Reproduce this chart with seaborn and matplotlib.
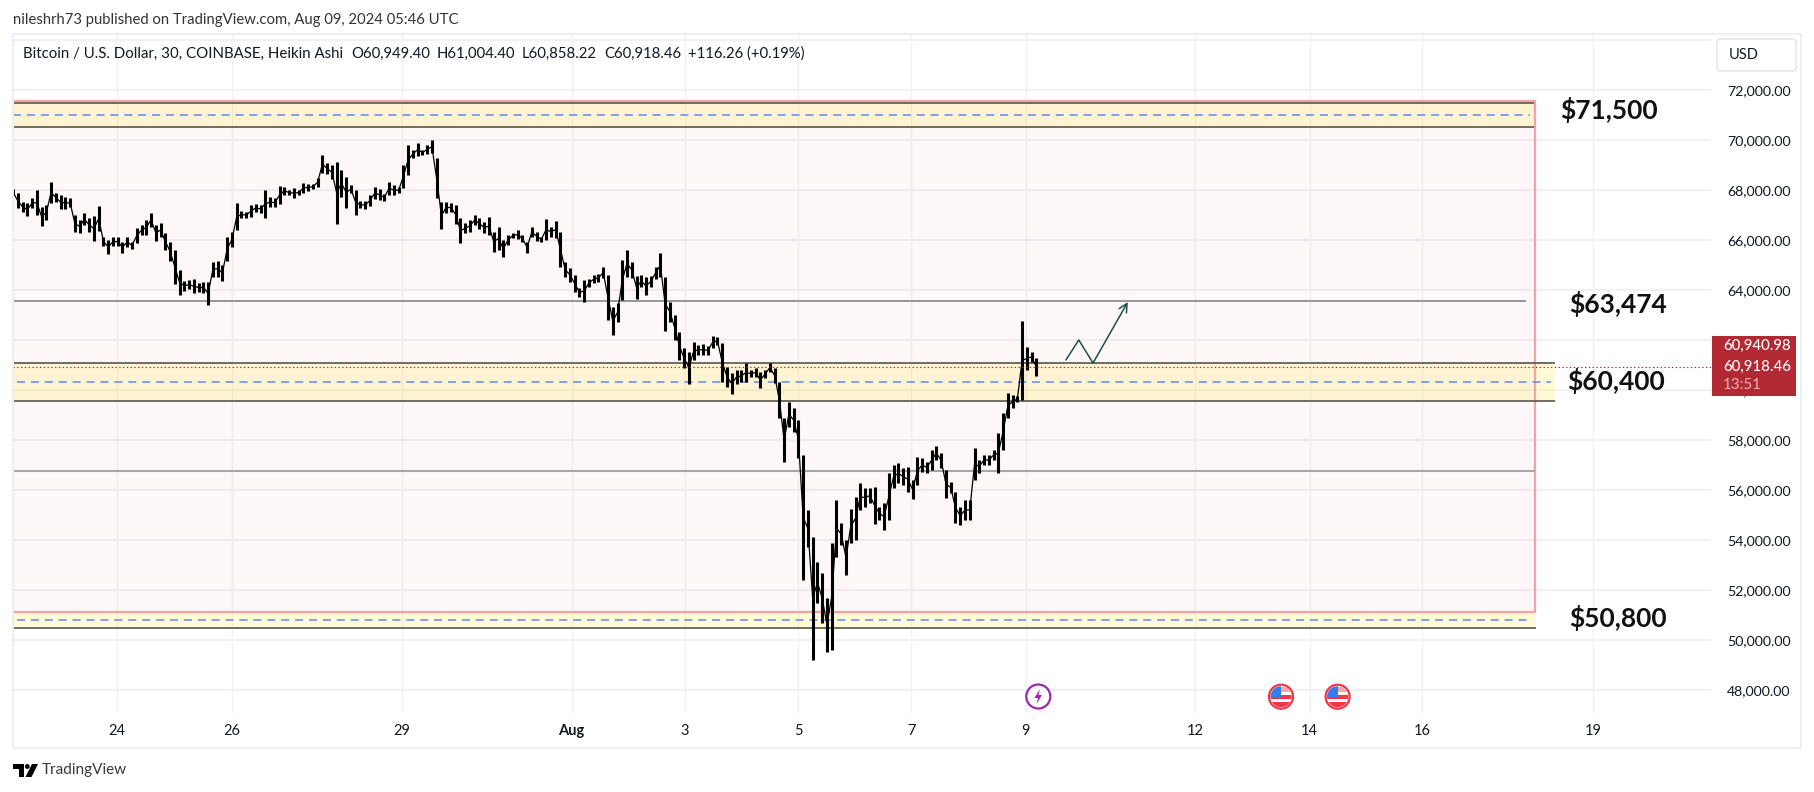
import matplotlib
matplotlib.use("Agg")
import matplotlib.pyplot as plt
from matplotlib.patches import Rectangle, Circle, Polygon, FancyBboxPatch
import seaborn as sns
import pandas as pd

### price bars, 2 hour groups of the 30 min heikin ashi candles ###

highs = [68030, 67870, 67530, 67470, 67670, 68000, 67310, 67400, 68330, 67870, 67800, 67730,
         67670, 67000, 66800, 67070, 66870, 66960, 67360, 66130, 66000, 66110, 66110, 65930,
         66110, 65930, 66470, 66600, 66800, 67090, 66600, 66690, 66270, 65930, 65600, 64800,
         64370, 64400, 64430, 64270, 64330, 64330, 65130, 65170, 65000, 66130, 66330, 67470,
         67160, 67130, 67400, 67440, 67400, 68000, 67730, 67670, 68160, 68130, 68000, 68070,
         68000, 68270, 68240, 68240, 68490, 69400, 69070, 69000, 69130, 68800, 68530, 68200,
         68000, 67560, 67570, 67800, 68110, 68030, 67840, 68330, 68200, 68110, 69000, 69800,
         69600, 69870, 69600, 69800, 70000, 69270, 67530, 67530, 67470, 67400, 66870, 66670,
         66800, 67000, 66870, 66730, 66910, 66330, 66530, 66000, 66200, 66290, 66400, 66200,
         65930, 66510, 66330, 66130, 66830, 66530, 66770, 66330, 65130, 64870, 64600, 64070,
         64400, 64430, 64600, 64640, 64930, 64600, 63330, 63470, 65200, 65600, 65130, 64560,
         64600, 64530, 64560, 64930, 65470, 64530, 63530, 63000, 62330, 61670, 61530, 61930,
         61800, 61840, 61760, 62160, 62130, 61870, 60930, 60670, 60800, 60800, 61070, 60800,
         60870, 60730, 60800, 61070, 60870, 60330, 58870, 59530, 59270, 58800, 57400, 55200,
         54130, 53130, 52670, 51670, 53870, 55600, 54670, 54000, 55230, 55730, 56270, 56070,
         56070, 56130, 55330, 55470, 56670, 57000, 57070, 56870, 56930, 56400, 57330, 57270,
         57130, 57600, 57760, 57490, 56800, 56330, 55930, 55330, 55600, 55600, 57670, 57200,
         57400, 57400, 57600, 58270, 59070, 59870, 59800, 59760, 62760, 61730, 61530, 61270]

lows = [67800, 67270, 67130, 66960, 67270, 67000, 66560, 66800, 67470, 67530, 67230, 67230,
        67310, 66330, 66270, 66600, 66330, 65960, 66360, 65760, 65440, 65760, 65760, 65490,
        65730, 65630, 65870, 66200, 66200, 66530, 65970, 66110, 65600, 65170, 64240, 63800,
        63970, 64030, 63870, 63930, 63870, 63400, 64530, 64530, 64370, 65170, 65710, 66400,
        66870, 66870, 66910, 67130, 67090, 66890, 67310, 67310, 67440, 67800, 67800, 67670,
        67800, 67890, 67970, 68030, 68130, 68670, 68640, 68430, 66640, 67730, 67290, 67870,
        67000, 67270, 67230, 67360, 67630, 67600, 67570, 67800, 67800, 67870, 68070, 68600,
        69270, 69360, 69400, 69440, 69470, 67670, 66430, 67070, 67130, 66640, 65870, 66270,
        66330, 66600, 66430, 66270, 66200, 65530, 65600, 65310, 65800, 66070, 66030, 65930,
        65490, 66130, 65970, 65930, 66000, 66130, 66070, 64930, 64510, 64330, 63930, 63730,
        63530, 64130, 64270, 64330, 64470, 62800, 62200, 62730, 63600, 64530, 64470, 63630,
        64110, 63800, 64130, 64430, 64510, 62370, 62730, 62000, 61200, 60870, 60240, 61200,
        61400, 61400, 61400, 61670, 61800, 60330, 60130, 59840, 60240, 60330, 60330, 60510,
        60530, 60070, 60470, 60730, 60290, 58870, 57130, 58530, 58330, 57270, 52400, 53730,
        49200, 51470, 50670, 49530, 49600, 53330, 53800, 52600, 53870, 54000, 55200, 55310,
        55490, 54640, 54800, 54400, 54800, 56070, 56270, 56200, 55930, 55630, 56200, 56730,
        56670, 56800, 57200, 56870, 55670, 55870, 54670, 54600, 54800, 54800, 56400, 56690,
        57000, 57000, 57200, 56690, 57600, 58870, 59270, 59530, 59600, 60800, 61130, 60560]

price_ticks = [48000, 50000, 52000, 54000, 56000, 58000, 60000, 62000, 64000, 66000, 68000, 70000, 72000]
grid_only_price = 74000
# date labels and where they sit on the bar index
day_labels = ["24", "26", "29", "Aug", "3", "5", "7", "9", "12", "14", "16", "19"]
day_bars = [21.91, 45.94, 81.66, 117.37, 141.11, 164.98, 188.72, 212.75, 248.38, 272.39, 296.07, 331.87]

level_labels = ["$71,500", "$63,474", "$60,400", "$50,800"]
level_prices = [71200, 63440, 60360, 50880]
level_bars = [335.3, 337.1, 336.8, 337.1]

# the drawn up arrow, up then back then to the target
arrow_bars = [221.2, 223.9, 226.9, 234.2]
arrow_prices = [61200, 62000, 61080, 63520]

last_price = 60918.46

FONT = "Lato"
TXT = "#131722"
GRID = "#f1f1f4"

sns.set_theme(style="white")
plt.rcParams["font.family"] = [FONT, "DejaVu Sans"]

df = pd.DataFrame({"bar": range(len(highs)), "high": highs, "low": lows})
df["mid"] = (df["high"] + df["low"]) / 2

fig = plt.figure(figsize=(18.15, 7.92), dpi=100, facecolor="white")
W, H = 1815.0, 792.0
ax = fig.add_axes([13 / W, 1 - 713 / H, (1711 - 13) / W, (713 - 34) / H])
ax.set_xlim(0, 356.72)
ax.set_ylim(47080, 74240)
ax.set_facecolor("white")
sns.despine(ax=ax, left=True, bottom=True, right=True, top=True)

# grid
ax.set_axisbelow(True)
ax.hlines(price_ticks + [grid_only_price], 0, 356.72, color=GRID, lw=1.5, zorder=0)
ax.vlines(day_bars, 47080, 74240, color=GRID, lw=1.0, zorder=0)

# axis labels
ax.yaxis.tick_right()
ax.set_yticks(price_ticks)
ax.set_yticklabels(["{:,.2f}".format(p) for p in price_ticks], fontsize=10.2, color=TXT)
ax.set_xticks(day_bars)
ax.set_xticklabels(day_labels, fontsize=10.5, color=TXT)
ax.tick_params(axis="y", length=0, pad=11.5)
ax.tick_params(axis="x", length=0, pad=8)
for lab in ax.get_xticklabels():
    if lab.get_text() == "Aug":
        lab.set_fontweight("bold")

# pink box and yellow zones
ax.add_patch(Rectangle((0, 51120), 319.75, 71560 - 51120, facecolor="#f23645", alpha=0.04, lw=0, zorder=1))
for x1, lo, hi in [(319.5, 70520, 71468), (323.9, 59550, 61070), (319.96, 50490, 51120)]:
    ax.add_patch(Rectangle((0, lo), x1, hi - lo, facecolor="#ffeb3b", alpha=0.2, lw=0, zorder=1.1))
ax.plot([0, 319.75, 319.75, 0], [71560, 71560, 51120, 51120], color="#f7a1a6", lw=1.6, zorder=1.5)

for x1, lines in [(319.5, [70520, 71468]), (323.9, [59550, 61070]), (319.96, [50490])]:
    ax.hlines(lines, 0, x1, color="#5a5548", lw=1.2, zorder=2)

dash_style = (0, (5.3, 3.8))
for x0, x1, p in [(0, 318.7, 71000), (0.84, 323.1, 60310), (0.84, 318.7, 50800)]:
    ax.plot([x0, x1], [p, p], color="#6488f0", lw=1.1, ls=dash_style, zorder=2)

# plain levels
ax.hlines(63550, 0, 317.9, color="#787b86", lw=1.1, zorder=2)
ax.hlines(56750, 0, 319.75, color="#a8a6ac", lw=1.5, zorder=2)

# candles
ax.vlines(df["bar"], df["low"], df["high"], color="black", lw=2.2, zorder=3)
sns.lineplot(data=df, x="bar", y="mid", color="black", lw=0.9, ax=ax, zorder=3, legend=False)
ax.set_xlabel("")
ax.set_ylabel("")
ax.set_xlim(0, 356.72)
ax.set_ylim(47080, 74240)

# last price line
ax.plot([0, 356.72], [last_price, last_price], color="#a8242c", lw=0.8, ls=(0, (1.2, 2.2)), zorder=4)

# arrow
ax.plot(arrow_bars[:3], arrow_prices[:3], color="#1f4f4a", lw=1.1, zorder=4)
ax.annotate("", xy=(arrow_bars[3], arrow_prices[3]), xytext=(arrow_bars[2], arrow_prices[2]),
            arrowprops=dict(arrowstyle="->", color="#1f4f4a", lw=1.1, mutation_scale=15, shrinkA=0, shrinkB=0), zorder=4)

for lab, b, p in zip(level_labels, level_bars, level_prices):
    ax.text(b, p, lab, fontsize=19, fontweight="bold", color="#111111", ha="center", va="center", zorder=5)

# chrome drawn in pixel coordinates
top = fig.add_axes([0, 0, 1, 1], facecolor="none")
top.set_xlim(0, W)
top.set_ylim(H, 0)
top.axis("off")

top.add_patch(Rectangle((13, 34), 1801.5 - 13, 748 - 34, fill=False, edgecolor="#eeeff4", lw=1.5))
top.text(13, 20, "nileshrh73 published on TradingView.com, Aug 09, 2024 05:46 UTC", fontsize=10.7, color="#333333", va="center")

top.text(23, 54, "Bitcoin / U.S. Dollar, 30, COINBASE, Heikin Ashi", fontsize=10.8, color=TXT, va="center")
for x, s in [(351, "O60,949.40"), (437, "H61,004.40"), (522, "L60,858.22"), (604.5, "C60,918.46"), (688, "+116.26 (+0.19%)")]:
    top.text(x, 54, s, fontsize=10.7, color=TXT, va="center")

top.add_patch(FancyBboxPatch((1717, 39), 79, 32, boxstyle="round,pad=0,rounding_size=4", facecolor="white", edgecolor="#e6e7ec", lw=1.2))
top.text(1728.5, 55, "USD", fontsize=10.5, color=TXT, va="center")

# last price tag
top.add_patch(Rectangle((1712, 336), 84, 60, facecolor="#b22833", lw=0))
top.text(1723, 346, "60,940.98", fontsize=10.8, fontweight="medium", color="white", va="center")
top.text(1723, 367, "60,918.46", fontsize=10.8, fontweight="medium", color="white", va="center")
top.text(1723, 385, "13:51", fontsize=10.8, color="#e9b4b8", va="center")

# logo
top.add_patch(Polygon([(13, 764), (24, 764), (24, 777), (19, 777), (19, 769), (13, 769)], facecolor="black", lw=0))
top.add_patch(Circle((27.3, 766.5), 2.4, facecolor="black", lw=0))
top.add_patch(Polygon([(32, 764), (38, 764), (31.5, 777), (25.5, 777)], facecolor="black", lw=0))
top.text(42, 770, "TradingView", fontsize=11, color="#3a3a3a", va="center")

# event icons
top.add_patch(Circle((1038.3, 696.5), 12, facecolor="white", edgecolor="#9c27b0", lw=1.6))
top.add_patch(Polygon([(1040, 689), (1034.5, 698), (1038, 698), (1036.5, 704), (1042, 695), (1038.5, 695)], facecolor="#9c27b0", lw=0))
for cx in [1281, 1337.6]:
    ring = Circle((cx, 696.7), 12, facecolor="white", edgecolor="#f23645", lw=1.6)
    top.add_patch(ring)
    inner = Circle((cx, 696.7), 10.5, transform=top.transData)
    for y0, hgt, col, x0, wid in [(687, 5, "#f7a8ad", cx - 11, 22), (694.5, 4.5, "#f23645", cx - 11, 22),
                                  (702, 5, "#f23645", cx - 11, 22), (686, 11, "#2f80ed", cx - 11, 11)]:
        r = Rectangle((x0, y0), wid, hgt, facecolor=col, lw=0)
        top.add_patch(r)
        r.set_clip_path(inner)

fig.savefig("out.png", dpi=100)
